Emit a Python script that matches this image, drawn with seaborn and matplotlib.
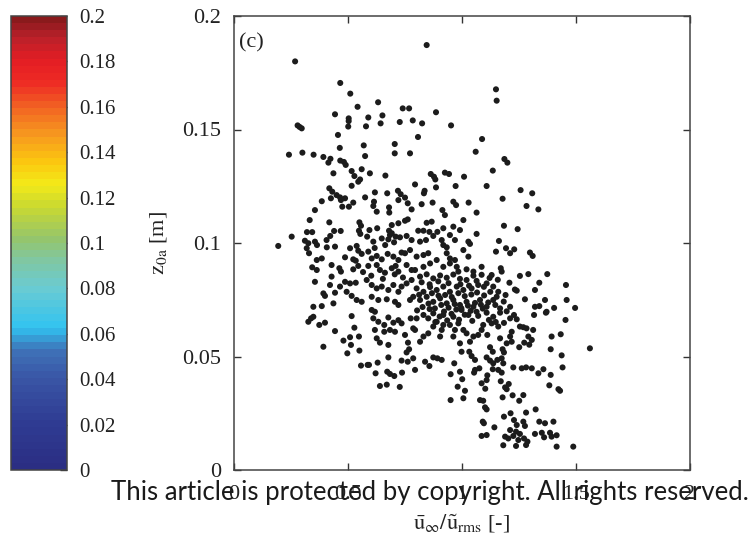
import numpy as np
import pandas as pd
import matplotlib
matplotlib.use("Agg")
import matplotlib.pyplot as plt
import seaborn as sns
from matplotlib.colors import LinearSegmentedColormap, Normalize
from matplotlib.cm import ScalarMappable

# ---------------- data ----------------
u_ratio = [
    0.268, 0.466, 0.510, 0.632, 0.542, 0.740, 0.768, 0.443, 0.651, 0.503, 0.503, 0.589, 0.784, 0.727, 0.643,
    0.279, 0.288, 0.297, 0.501, 0.579, 0.456, 0.569, 0.705, 0.464, 0.241, 0.300, 0.349, 0.392, 0.423, 0.414,
    0.466, 0.482, 0.575, 0.705, 0.772,
    0.845, 1.149, 1.152, 0.886, 0.825, 0.952, 0.807, 1.088, 1.060, 1.186, 1.199,
    0.490, 0.436, 0.516, 0.528, 0.560, 0.596, 0.553, 0.545, 0.664, 0.794, 0.516, 0.418, 0.431, 0.450, 0.465,
    0.469, 0.425, 0.487, 0.575, 0.618, 0.672, 0.719, 0.731, 0.721, 0.750, 0.762, 0.385, 0.523, 0.475, 0.504,
    0.614, 0.611, 0.680, 0.681, 0.626, 0.779, 0.355, 0.332, 0.418, 0.550, 0.557, 0.548, 0.554, 0.594, 0.628,
    0.692, 0.721, 0.750, 0.762, 0.680, 0.692, 0.439, 0.468, 0.320, 0.343, 0.422, 0.406, 0.253, 0.194, 0.311,
    0.326, 0.355, 0.364, 0.319, 0.329, 0.407, 0.443, 0.611, 0.648, 0.677, 0.684, 0.709, 0.728, 0.757, 0.779,
    0.509, 0.538, 0.545, 0.560, 0.487, 0.523, 0.534, 0.589, 0.604, 0.626, 0.648, 0.674, 0.699, 0.721, 0.750,
    0.772, 0.363, 0.385, 0.343, 0.363, 0.428, 0.462, 0.469, 0.523, 0.545, 0.589, 0.626, 0.640, 0.662, 0.692,
    0.709, 0.721, 0.757, 0.779, 0.355, 0.428, 0.421, 0.465, 0.487, 0.509, 0.534, 0.582, 0.604, 0.626, 0.648,
    0.677, 0.699, 0.721, 0.735, 0.757, 0.779, 0.392, 0.399, 0.443, 0.494, 0.516, 0.538, 0.560, 0.604, 0.633,
    0.670, 0.706, 0.721, 0.772, 0.348, 0.385, 0.436, 0.604, 0.618,
    1.135, 0.863, 0.877, 0.883, 0.925, 0.943, 1.009, 0.886, 0.972, 1.108, 1.257, 1.308, 0.836, 0.833, 1.178,
    0.962, 0.974, 0.871, 0.823, 1.029, 1.283, 1.335, 0.914, 0.925, 1.064, 1.006, 0.845, 0.867, 0.962, 0.991,
    0.918, 0.892, 0.857, 0.831, 0.808, 1.184, 1.244, 1.064, 0.947, 0.969, 0.874, 0.842, 0.816, 0.911, 0.918,
    0.933, 1.028, 1.035, 1.162, 1.193, 1.211, 1.229, 1.149, 1.298, 1.310, 1.006, 1.028, 0.852, 0.831, 0.801,
    0.933, 0.947, 0.969, 0.889, 0.860, 0.831, 0.918, 0.947, 0.977, 0.984, 1.020, 1.050, 1.086, 1.170, 1.174,
    1.130, 1.254, 1.291, 1.374, 1.456, 1.339, 1.208, 1.232, 1.240, 1.320, 1.459, 1.496, 1.364, 1.276, 1.320,
    1.339, 1.404, 1.371,
    0.794, 0.816, 0.845, 0.874, 0.904, 0.933, 0.962, 0.991, 1.020, 1.050, 1.086, 1.108, 1.137, 1.159, 1.071,
    1.042, 1.006, 0.977, 0.947, 0.918, 0.889, 0.860, 0.831, 0.801, 0.786, 0.816, 0.845, 0.874, 0.904, 0.933,
    0.962, 0.991, 1.020, 1.050, 1.079, 1.108, 1.137, 1.167, 1.211, 0.803, 0.858, 0.921, 0.975, 1.038, 1.091,
    0.326, 0.338, 0.348, 0.374, 0.399, 0.443, 0.392, 0.516, 0.528, 0.480, 0.509, 0.513, 0.548, 0.497, 0.550,
    0.557, 0.586, 0.592, 0.630, 0.621, 0.640, 0.670, 0.727, 0.677, 0.672, 0.684, 0.703, 0.737, 0.735, 0.762,
    0.786, 0.794, 0.757, 0.768, 0.763, 0.750, 0.626, 0.640, 0.677, 0.618, 0.659, 0.684, 0.706, 0.611, 0.633,
    0.659, 0.677, 0.699, 0.721, 0.735, 0.775, 0.786,
    1.561, 1.488, 1.415, 1.454, 1.393, 1.433, 1.389, 1.437, 1.441, 1.357, 1.335, 1.389, 1.383, 1.423, 1.430,
    1.323, 1.281, 1.339, 1.364, 1.401, 1.320, 1.350, 1.360, 1.386, 1.393, 1.415, 1.213, 1.228, 1.184, 1.269,
    1.276, 1.240, 1.211, 1.237, 1.254, 1.225, 1.203, 1.189, 1.181, 1.237, 1.281, 1.287, 1.272, 1.247, 1.142,
    1.091, 1.096, 1.086, 1.108, 1.079, 1.093, 1.101, 1.108, 0.950, 1.006, 1.013, 0.981, 1.001, 0.950, 0.991,
    1.053, 1.057, 1.086, 1.108, 1.102, 1.111, 1.178, 1.222, 1.251, 1.269, 1.170, 1.189, 1.196, 1.205, 1.174,
    1.135, 1.159, 1.225, 1.262, 1.281, 1.306, 1.076, 0.966, 0.857, 0.838, 0.874, 0.892, 0.911, 0.998, 1.032,
    1.042, 1.057, 1.108, 1.123, 1.137, 1.155, 1.174, 1.181, 1.123, 1.135, 1.178, 1.184, 1.196, 1.218, 1.251,
    1.273, 1.295, 1.291, 1.306, 1.269, 1.283, 1.254, 1.218, 1.211, 1.312, 1.316, 1.368, 1.228, 1.240, 1.167,
    1.071, 1.086, 1.111, 1.093, 1.130, 1.159, 1.035, 1.050, 1.020, 1.006, 0.991, 0.962, 0.969, 0.947, 0.984,
    0.904, 0.911, 0.918, 0.889, 0.874, 0.852, 0.831, 0.816, 0.794,
    0.998, 1.028, 1.064, 1.108, 1.137, 1.167, 1.211, 0.874, 0.918, 0.962, 0.831, 0.801,
    0.812, 0.827, 0.853, 0.868, 0.881, 0.897, 0.909, 0.926, 0.941, 0.955, 0.968, 0.984, 0.997, 1.012, 1.026,
    1.041, 1.057, 1.066, 1.083, 1.097, 1.115, 1.124, 1.146, 1.152, 1.183, 1.191,
    0.852, 0.883, 0.902, 0.935, 0.954, 0.987, 1.012, 1.045, 1.071, 1.118, 1.148, 1.184, 1.196,
    0.823, 0.858, 0.896, 0.941, 0.993, 1.031, 1.064, 1.096, 1.121, 1.157,
    0.566, 0.602, 0.653, 0.705, 0.741, 0.617, 0.663, 0.735, 0.584, 0.702,
]

z0a = [
    0.1800, 0.1705, 0.1658, 0.1620, 0.1600, 0.1593, 0.1593, 0.1567, 0.1562, 0.1549, 0.1537, 0.1553, 0.1540, 0.1533, 0.1527,
    0.1518, 0.1511, 0.1505, 0.1513, 0.1514, 0.1476, 0.1430, 0.1436, 0.1419, 0.1389, 0.1398, 0.1389, 0.1379, 0.1371, 0.1354,
    0.1363, 0.1357, 0.1383, 0.1395, 0.1395,
    0.1872, 0.1677, 0.1627, 0.1576, 0.1527, 0.1518, 0.1467, 0.1458, 0.1402, 0.1370, 0.1354,
    0.1344, 0.1307, 0.1317, 0.1295, 0.1325, 0.1307, 0.1280, 0.1270, 0.1297, 0.1258, 0.1252, 0.1241, 0.1226, 0.1211, 0.1201,
    0.1189, 0.1197, 0.1197, 0.1201, 0.1223, 0.1219, 0.1230, 0.1215, 0.1189, 0.1200, 0.1175, 0.1184, 0.1178, 0.1160, 0.1160,
    0.1182, 0.1163, 0.1157, 0.1134, 0.1138, 0.1148, 0.1145, 0.1101, 0.1091, 0.1091, 0.1076, 0.1054, 0.1040, 0.1057, 0.1065,
    0.1079, 0.1087, 0.1098, 0.1104, 0.1054, 0.1043, 0.1053, 0.1053, 0.1048, 0.1048, 0.1031, 0.1013, 0.1028, 0.0987, 0.1010,
    0.0999, 0.1006, 0.0991, 0.0977, 0.0955, 0.0981, 0.0984, 0.1006, 0.1020, 0.1016, 0.1035, 0.1028, 0.1025, 0.1031, 0.1013,
    0.0977, 0.0987, 0.0966, 0.0952, 0.0937, 0.0928, 0.0922, 0.0962, 0.0932, 0.0943, 0.0928, 0.0952, 0.0940, 0.0925, 0.0955,
    0.0969, 0.0925, 0.0932, 0.0893, 0.0881, 0.0903, 0.0889, 0.0874, 0.0884, 0.0899, 0.0899, 0.0903, 0.0881, 0.0869, 0.0889,
    0.0899, 0.0874, 0.0903, 0.0881, 0.0829, 0.0852, 0.0815, 0.0808, 0.0829, 0.0822, 0.0825, 0.0837, 0.0815, 0.0800, 0.0808,
    0.0793, 0.0815, 0.0785, 0.0808, 0.0822, 0.0837, 0.0778, 0.0767, 0.0781, 0.0785, 0.0767, 0.0749, 0.0741, 0.0763, 0.0749,
    0.0752, 0.0741, 0.0727, 0.0749, 0.0719, 0.0722, 0.0734, 0.0705, 0.0697,
    0.1319, 0.1304, 0.1292, 0.1280, 0.1310, 0.1304, 0.1292, 0.1245, 0.1251, 0.1251, 0.1233, 0.1219, 0.1230, 0.1219, 0.1195,
    0.1182, 0.1167, 0.1178, 0.1171, 0.1178, 0.1163, 0.1148, 0.1145, 0.1123, 0.1134, 0.1101, 0.1089, 0.1094, 0.1072, 0.1057,
    0.1065, 0.1049, 0.1049, 0.1054, 0.1054, 0.1076, 0.1061, 0.1040, 0.1035, 0.1013, 0.1031, 0.1013, 0.1006, 0.1013, 0.0991,
    0.0981, 0.1006, 0.0996, 0.1009, 0.0977, 0.0955, 0.0972, 0.0962, 0.0958, 0.0943, 0.0969, 0.0940, 0.0955, 0.0947, 0.0940,
    0.0955, 0.0932, 0.0925, 0.0925, 0.0910, 0.0895, 0.0895, 0.0910, 0.0895, 0.0874, 0.0884, 0.0874, 0.0895, 0.0889, 0.0874,
    0.0859, 0.0855, 0.0863, 0.0863, 0.0815, 0.0825, 0.0825, 0.0795, 0.0790, 0.0793, 0.0749, 0.0714, 0.0749, 0.0752, 0.0719,
    0.0722, 0.0714, 0.0697,
    0.0881, 0.0852, 0.0862, 0.0844, 0.0857, 0.0847, 0.0861, 0.0842, 0.0837, 0.0856, 0.0860, 0.0822, 0.0808, 0.0785, 0.0815,
    0.0800, 0.0793, 0.0808, 0.0785, 0.0808, 0.0793, 0.0806, 0.0785, 0.0800, 0.0763, 0.0749, 0.0763, 0.0741, 0.0756, 0.0734,
    0.0749, 0.0727, 0.0741, 0.0719, 0.0749, 0.0719, 0.0749, 0.0712, 0.0719, 0.0703, 0.0709, 0.0698, 0.0707, 0.0701, 0.0711,
    0.0653, 0.0668, 0.0675, 0.0639, 0.0649, 0.0612, 0.0543, 0.0678, 0.0627, 0.0570, 0.0585, 0.0551, 0.0588, 0.0514, 0.0526,
    0.0460, 0.0463, 0.0463, 0.0473, 0.0426, 0.0370, 0.0376, 0.0366, 0.0496, 0.0433, 0.0423, 0.0414, 0.0429, 0.0482, 0.0477,
    0.0492, 0.0441, 0.0518, 0.0532, 0.0561, 0.0595, 0.0580, 0.0561, 0.0551, 0.0617, 0.0609, 0.0617, 0.0609, 0.0668, 0.0653,
    0.0639, 0.0672, 0.0649, 0.0660, 0.0646, 0.0668, 0.0624,
    0.0536, 0.0103, 0.0103, 0.0661, 0.0588, 0.0598, 0.0532, 0.0505, 0.0452, 0.0444, 0.0426, 0.0419, 0.0373, 0.0356, 0.0349,
    0.0267, 0.0253, 0.0213, 0.0206, 0.0213, 0.0159, 0.0164, 0.0144, 0.0164, 0.0147, 0.0153, 0.0250, 0.0220, 0.0235, 0.0213,
    0.0194, 0.0198, 0.0176, 0.0169, 0.0159, 0.0150, 0.0139, 0.0147, 0.0109, 0.0106, 0.0110, 0.0125, 0.0139, 0.0132, 0.0188,
    0.0213, 0.0206, 0.0150, 0.0154, 0.0308, 0.0305, 0.0276, 0.0267, 0.0308, 0.0316, 0.0349, 0.0367, 0.0400, 0.0422, 0.0433,
    0.0429, 0.0441, 0.0382, 0.0396, 0.0358, 0.0417, 0.0320, 0.0329, 0.0305, 0.0330, 0.0391, 0.0364, 0.0356, 0.0379, 0.0429,
    0.0444, 0.0441, 0.0452, 0.0448, 0.0452, 0.0448, 0.0448, 0.0470, 0.0458, 0.0477, 0.0496, 0.0492, 0.0485, 0.0521, 0.0521,
    0.0502, 0.0485, 0.0496, 0.0482, 0.0470, 0.0485, 0.0492, 0.0470, 0.0541, 0.0521, 0.0532, 0.0518, 0.0558, 0.0565, 0.0541,
    0.0561, 0.0552, 0.0588, 0.0573, 0.0629, 0.0624, 0.0632, 0.0609, 0.0588, 0.0617, 0.0683, 0.0693, 0.0683, 0.0664, 0.0580,
    0.0595, 0.0617, 0.0595, 0.0639, 0.0646, 0.0632, 0.0565, 0.0588, 0.0602, 0.0617, 0.0558, 0.0588, 0.0617, 0.0639, 0.0646,
    0.0588, 0.0617, 0.0639, 0.0653, 0.0632, 0.0602, 0.0588, 0.0565, 0.0617,
    0.0705, 0.0683, 0.0697, 0.0693, 0.0675, 0.0693, 0.0668, 0.0690, 0.0683, 0.0675, 0.0683, 0.0668,
    0.0772, 0.0718, 0.0733, 0.0779, 0.0712, 0.0768, 0.0727, 0.0771, 0.0715, 0.0762, 0.0731, 0.0779, 0.0713, 0.0766, 0.0724,
    0.0773, 0.0736, 0.0782, 0.0728, 0.0769, 0.0738, 0.0785, 0.0727, 0.0763, 0.0742, 0.0771,
    0.0668, 0.0652, 0.0676, 0.0659, 0.0688, 0.0662, 0.0684, 0.0657, 0.0679, 0.0661, 0.0652, 0.0648, 0.0699,
    0.0827, 0.0818, 0.0831, 0.0823, 0.0818, 0.0812, 0.0833, 0.0807, 0.0846, 0.0838,
    0.0872, 0.0856, 0.0842, 0.0862, 0.0848, 0.0978, 0.0991, 0.0958, 0.1028, 0.1003,
]

cbar_ticks = [0, 0.02, 0.04, 0.06, 0.08, 0.1, 0.12, 0.14, 0.16, 0.18, 0.2]
cbar_labels = ["0", "0.02", "0.04", "0.06", "0.08", "0.1", "0.12", "0.14", "0.16", "0.18", "0.2"]
x_ticks = [0, 0.5, 1, 1.5, 2]
x_labels = ["0", "0.5", "1", "1.5", "2"]
y_ticks = [0, 0.05, 0.1, 0.15, 0.2]
y_labels = ["0", "0.05", "0.1", "0.15", "0.2"]

df = pd.DataFrame({"u": u_ratio, "z": z0a})

# ---------------- style ----------------
sns.set_theme(style="white")
plt.rcParams["font.family"] = ["Liberation Serif", "DejaVu Serif"]
plt.rcParams["mathtext.fontset"] = "stix"

W, H = 754, 547
fig = plt.figure(figsize=(W / 100, H / 100), dpi=100)
fig.patch.set_facecolor("white")

ax_l, ax_r, ax_t, ax_b = 234, 690, 16, 470
ax = fig.add_axes([ax_l / W, (H - ax_b) / H, (ax_r - ax_l) / W, (ax_b - ax_t) / H])

sns.scatterplot(data=df, x="u", y="z", ax=ax, color="#1c1c1c", s=19,
                linewidth=0, edgecolor="none", legend=False)

ax.set_xlim(0, 2)
ax.set_ylim(0, 0.2)
ax.set_xticks(x_ticks)
ax.set_xticklabels(x_labels)
ax.set_yticks(y_ticks)
ax.set_yticklabels(y_labels)
ax.tick_params(direction="in", length=5, width=1, colors="#333333",
               labelcolor="#222222", labelsize=16, top=True, right=True,
               bottom=True, left=True, pad=9)
ax.tick_params(axis="x", pad=11)
for sp in ax.spines.values():
    sp.set_visible(True)
    sp.set_color("#444444")
    sp.set_linewidth(1.1)

ax.set_xlabel(r"$\bar{\mathrm{u}}_{\infty}/\tilde{\mathrm{u}}_{\mathrm{rms}}$ [-]",
              fontsize=16, color="#222222", labelpad=6)
ax.set_ylabel(r"$\mathrm{z}_{0\mathrm{a}}$ [m]", fontsize=16, color="#222222", labelpad=10)
ax.text(0.012, 0.94, "(c)", transform=ax.transAxes, fontsize=16,
        color="#222222", va="center", ha="left")

# ---------------- colorbar ----------------
stops = [(0.00, "#2B2E83"), (0.10, "#2F3C93"), (0.20, "#3A56A6"), (0.26, "#3E72B8"),
         (0.31, "#31C3F1"), (0.40, "#6ACBD2"), (0.46, "#80C7A2"), (0.51, "#95C56B"),
         (0.58, "#C8D832"), (0.63, "#F3EA19"), (0.68, "#FBC80F"), (0.74, "#F79A1E"),
         (0.80, "#F26523"), (0.86, "#EE2A24"), (0.91, "#E31E24"), (0.96, "#B8202A"),
         (1.00, "#8A1A1C")]
cmap = LinearSegmentedColormap.from_list("printjet", stops, N=64)
cax = fig.add_axes([10.5 / W, (H - ax_b) / H, 56.5 / W, (ax_b - ax_t) / H])
sm = ScalarMappable(norm=Normalize(0, 0.2), cmap=cmap)
cb = fig.colorbar(sm, cax=cax, ticks=cbar_ticks)
cb.ax.set_yticklabels(cbar_labels)
cb.ax.tick_params(direction="in", length=5, width=1, colors="#333333",
                  labelcolor="#222222", labelsize=15, pad=9)
cb.outline.set_edgecolor("#444444")
cb.outline.set_linewidth(1.1)

# ---------------- watermark ----------------
fig.text(430 / W, (H - 500) / H, "This article is protected by copyright. All rights reserved.",
         fontsize=18.5, family=["Lato", "DejaVu Sans"], color="#1a1a1a",
         ha="center", va="baseline")

fig.savefig("out.png", dpi=100, facecolor="white")
